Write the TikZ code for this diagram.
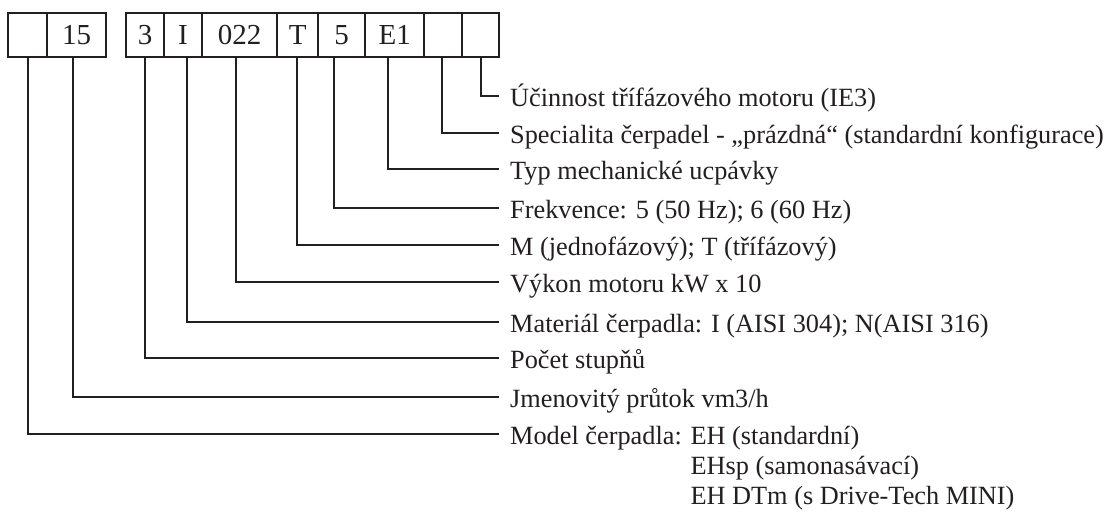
\documentclass[tikz,border=0pt]{standalone}
\usepackage{fontspec}
\setmainfont{Liberation Serif}
\definecolor{ink}{RGB}{35,31,32}
\begin{document}
\begin{tikzpicture}[x=1pt,y=-1pt,
  cell/.style={draw=ink,line width=2pt,minimum height=44pt,inner sep=0pt,
    font=\fontsize{29}{30}\selectfont,text=ink},
  lbl/.style={anchor=base west,inner sep=0pt,font=\fontsize{26.3}{29}\selectfont,text=ink,align=left},
  conn/.style={draw=ink,line width=1.8pt}]
\useasboundingbox[fill=white] (0,0) rectangle (1112,515);
% cells
\node[cell,minimum width=39pt] (c1) at (27.8,34.7) {};
\node[cell,minimum width=58.7pt] (c2) at (76.65,34.7) {15\hspace{6pt}};
\node[cell,minimum width=38pt] (c3) at (145,34.7) {3};
\node[cell,minimum width=37.7pt] (c4) at (182.85,34.7) {I\hspace{3pt}};
\node[cell,minimum width=75.6pt] (c5) at (239.5,34.7) {022\hspace{8pt}};
\node[cell,minimum width=41pt] (c6) at (297.8,34.7) {T};
\node[cell,minimum width=46.7pt] (c7) at (341.65,34.7) {5\hspace{11pt}};
\node[cell,minimum width=59.3pt] (c8) at (394.65,34.7) {E1\hspace{23pt}};
\node[cell,minimum width=37.4pt] (c9) at (443,34.7) {};
\node[cell,minimum width=37.3pt] (c10) at (480.35,34.7) {};
% labels
\node[lbl] (t10) at (510,106) {Účinnost třífázového motoru (IE3)};
\node[lbl] (t9) at (510,143.3) {Specialita čerpadel - „prázdná“ (standardní konfigurace)};
\node[lbl] (t8) at (510,179) {Typ mechanické ucpávky};
\node[lbl] (t7) at (510,218.3) {Frekvence: 5 (50 Hz); 6 (60 Hz)};
\node[lbl] (t6) at (510,255.3) {M (jednofázový); T (třífázový)};
\node[lbl] (t5) at (510,292.3) {Výkon motoru kW x 10};
\node[lbl] (t4) at (510,332.3) {Materiál čerpadla: I (AISI 304); N(AISI 316)};
\node[lbl] (t3) at (510,368.3) {Počet stupňů};
\node[lbl] (t2) at (510,407.3) {Jmenovitý průtok vm3/h};
\node[lbl] (t1) at (510,504) {Model čerpadla: EH (standardní)\\[1pt]
  \phantom{Model čerpadla: }EHsp (samonasávací)\\[1pt]
  \phantom{Model čerpadla: }EH DTm (s Drive-Tech MINI)};
% connectors
\draw[conn] ([xshift=0.5pt]c10.south) |- ([shift={(-11pt,10pt)}]t10.base west);
\draw[conn] ([xshift=-1.3pt]c9.south) |- ([shift={(-11pt,10pt)}]t9.base west);
\draw[conn] ([xshift=-6.3pt]c8.south) |- ([shift={(-11pt,10pt)}]t8.base west);
\draw[conn] ([xshift=-7.3pt]c7.south) |- ([shift={(-11pt,10pt)}]t7.base west);
\draw[conn] ([xshift=-1pt]c6.south) |- ([shift={(-11pt,10pt)}]t6.base west);
\draw[conn] ([xshift=-3.5pt]c5.south) |- ([shift={(-11pt,10pt)}]t5.base west);
\draw[conn] ([xshift=4.5pt]c4.south) |- ([shift={(-11pt,10pt)}]t4.base west);
\draw[conn] (c3.south) |- ([shift={(-11pt,10pt)}]t3.base west);
\draw[conn] ([xshift=-3.4pt]c2.south) |- ([shift={(-11pt,10pt)}]t2.base west);
\draw[conn] ([xshift=0.5pt]c1.south) |- ([shift={(-11pt,70pt)}]t1.base west);
\end{tikzpicture}
\end{document}
